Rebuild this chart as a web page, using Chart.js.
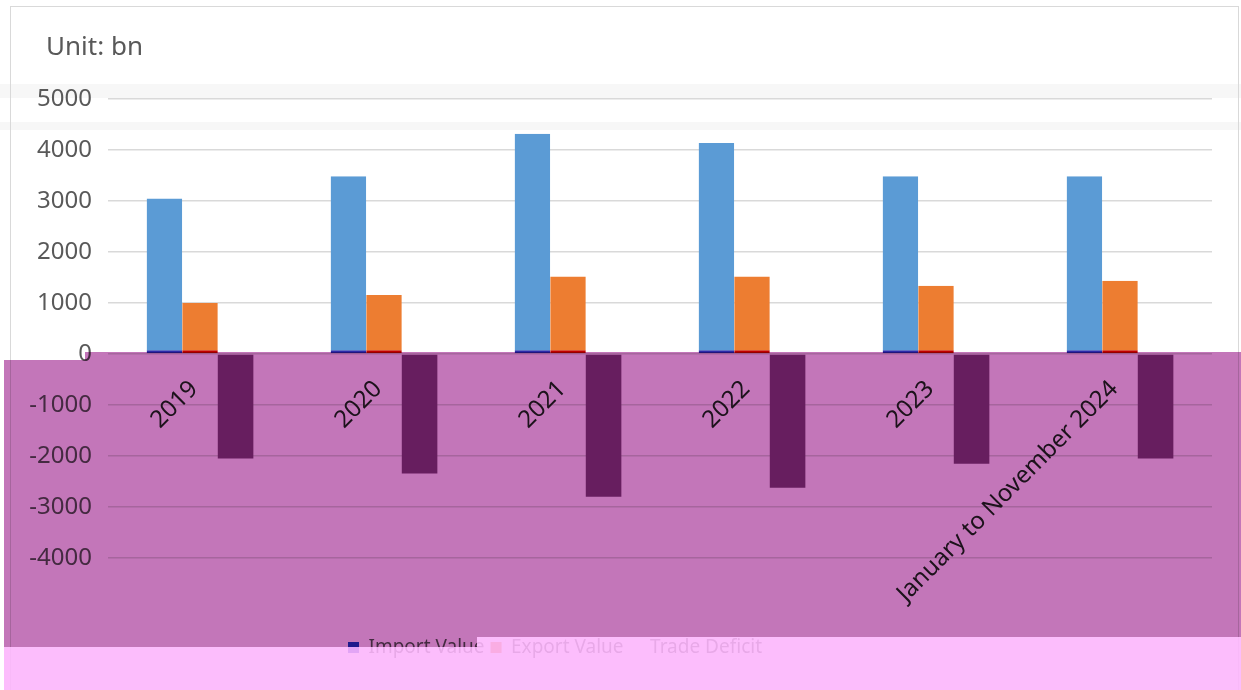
<!DOCTYPE html>
<html>
<head>
<meta charset="utf-8">
<script src="https://cdn.jsdelivr.net/npm/chart.js@4.4.1/dist/chart.umd.min.js"></script>
<style>
html,body{margin:0;padding:0;background:#fff;}
canvas{display:block;}
</style>
</head>
<body>
<canvas id="c" width="1241" height="690"></canvas>
<script>
// ---- data ----
const categories = ['2019', '2020', '2021', '2022', '2023', 'January to November 2024'];
const importValue = [3050, 3490, 4320, 4140, 3490, 3490];
const exportValue = [1000, 1160, 1520, 1520, 1340, 1440];
const tradeDeficit = [-2050, -2340, -2800, -2620, -2150, -2050];
const seriesNames = ['Import Value', 'Export Value', 'Trade Deficit'];
const yMin = -4000, yMax = 5000, yStep = 1000;
const unitLabel = 'Unit: bn';

const FONT = '"Noto Sans", "DejaVu Sans", sans-serif';

// decorative frame drawn behind the chart
const framePlugin = {
  id: 'frame',
  beforeDraw(chart) {
    const ctx = chart.ctx;
    ctx.save();
    ctx.fillStyle = '#ffffff';
    ctx.fillRect(0, 0, chart.width, chart.height);
    // faint background bands
    ctx.fillStyle = 'rgba(0,0,0,0.03)';
    ctx.fillRect(0, 84, chart.width, 14);
    ctx.fillRect(0, 122, chart.width, 8);
    ctx.strokeStyle = '#d9d9d9';
    ctx.lineWidth = 1;
    ctx.strokeRect(10.5, 6.5, 1228, 700);
    ctx.restore();
  }
};

// place the title and legend boxes like the original
const placePlugin = {
  id: 'place',
  afterLayout(chart) {
    const t = chart.titleBlock;
    if (t) { t.right = t.right - t.left + 46; t.left = 46; }
    const l = chart.legend;
    if (l) {
      const h = l.bottom - l.top;
      l.top = 632; l.bottom = 632 + h;
      const cx = 555, w = 1000;
      l.left = cx - w / 2; l.right = cx + w / 2; l.width = w;
    }
  }
};

// colour casts of the original picture
const tintPlugin = {
  id: 'tint',
  afterDraw(chart) {
    const ctx = chart.ctx;
    ctx.save();
    ctx.globalCompositeOperation = 'multiply';
    ctx.fillStyle = '#C376B9';
    ctx.beginPath();
    ctx.moveTo(4, 360);
    ctx.lineTo(85, 360);
    ctx.lineTo(85, 352);
    ctx.lineTo(1241, 352);
    ctx.lineTo(1241, 637);
    ctx.lineTo(477, 637);
    ctx.lineTo(477, 647);
    ctx.lineTo(4, 647);
    ctx.closePath();
    ctx.fill();
    ctx.globalCompositeOperation = 'source-over';
    ctx.fillStyle = 'rgba(252,180,252,0.88)';
    ctx.beginPath();
    ctx.moveTo(4, 647);
    ctx.lineTo(477, 647);
    ctx.lineTo(477, 637);
    ctx.lineTo(1241, 637);
    ctx.lineTo(1241, 690);
    ctx.lineTo(4, 690);
    ctx.closePath();
    ctx.fill();
    ctx.restore();
  }
};

const legendFill = ['#2838C1', '#ED7D31', 'rgba(0,0,0,0)'];

new Chart(document.getElementById('c'), {
  type: 'bar',
  data: {
    labels: categories,
    datasets: [
      {
        label: seriesNames[0], data: importValue,
        backgroundColor: '#5B9BD5', borderColor: '#2B2AA8',
        borderWidth: {top: 0, left: 0, right: 0, bottom: 3}, borderSkipped: false
      },
      {
        label: seriesNames[1], data: exportValue,
        backgroundColor: '#ED7D31', borderColor: '#C00000',
        borderWidth: {top: 0, left: 0, right: 0, bottom: 3}, borderSkipped: false
      },
      {
        label: seriesNames[2], data: tradeDeficit,
        backgroundColor: '#873F83', borderWidth: 0
      }
    ]
  },
  options: {
    responsive: false,
    animation: false,
    events: [],
    categoryPercentage: 0.58,
    barPercentage: 1.0,
    layout: { padding: { left: 0, right: 29, top: 0, bottom: 97 } },
    scales: {
      x: {
        position: { y: 0 },
        grid: { display: false, drawTicks: false },
        border: { display: false },
        ticks: {
          minRotation: 45, maxRotation: 45, autoSkip: false,
          padding: 21,
          labelOffset: -6,
          color: '#262626',
          font: { family: FONT, size: 24 }
        }
      },
      y: {
        min: yMin, max: yMax,
        afterFit(scale) { scale.width = 108; },
        grid: { color: '#d9d9d9', lineWidth: 1.5, drawTicks: false },
        border: { display: false },
        ticks: {
          stepSize: yStep,
          padding: 16,
          color: '#595959',
          font: { family: FONT, size: 24 },
          callback: (v) => String(v)
        }
      }
    },
    plugins: {
      title: {
        display: true, text: unitLabel, align: 'start',
        color: '#595959',
        font: { family: FONT, size: 26, weight: 'normal' },
        padding: { top: 32, bottom: 36 }
      },
      legend: {
        position: 'bottom',
        labels: {
          color: '#595959',
          boxWidth: 11, boxHeight: 11,
          padding: 6,
          font: { family: FONT, size: 19 },
          generateLabels(chart) {
            const items = Chart.defaults.plugins.legend.labels.generateLabels(chart);
            items.forEach((it, i) => { it.fillStyle = legendFill[i]; it.strokeStyle = 'rgba(0,0,0,0)'; it.lineWidth = 0; });
            return items;
          }
        }
      },
      tooltip: { enabled: false }
    }
  },
  plugins: [framePlugin, placePlugin, tintPlugin]
});
</script>
</body>
</html>
